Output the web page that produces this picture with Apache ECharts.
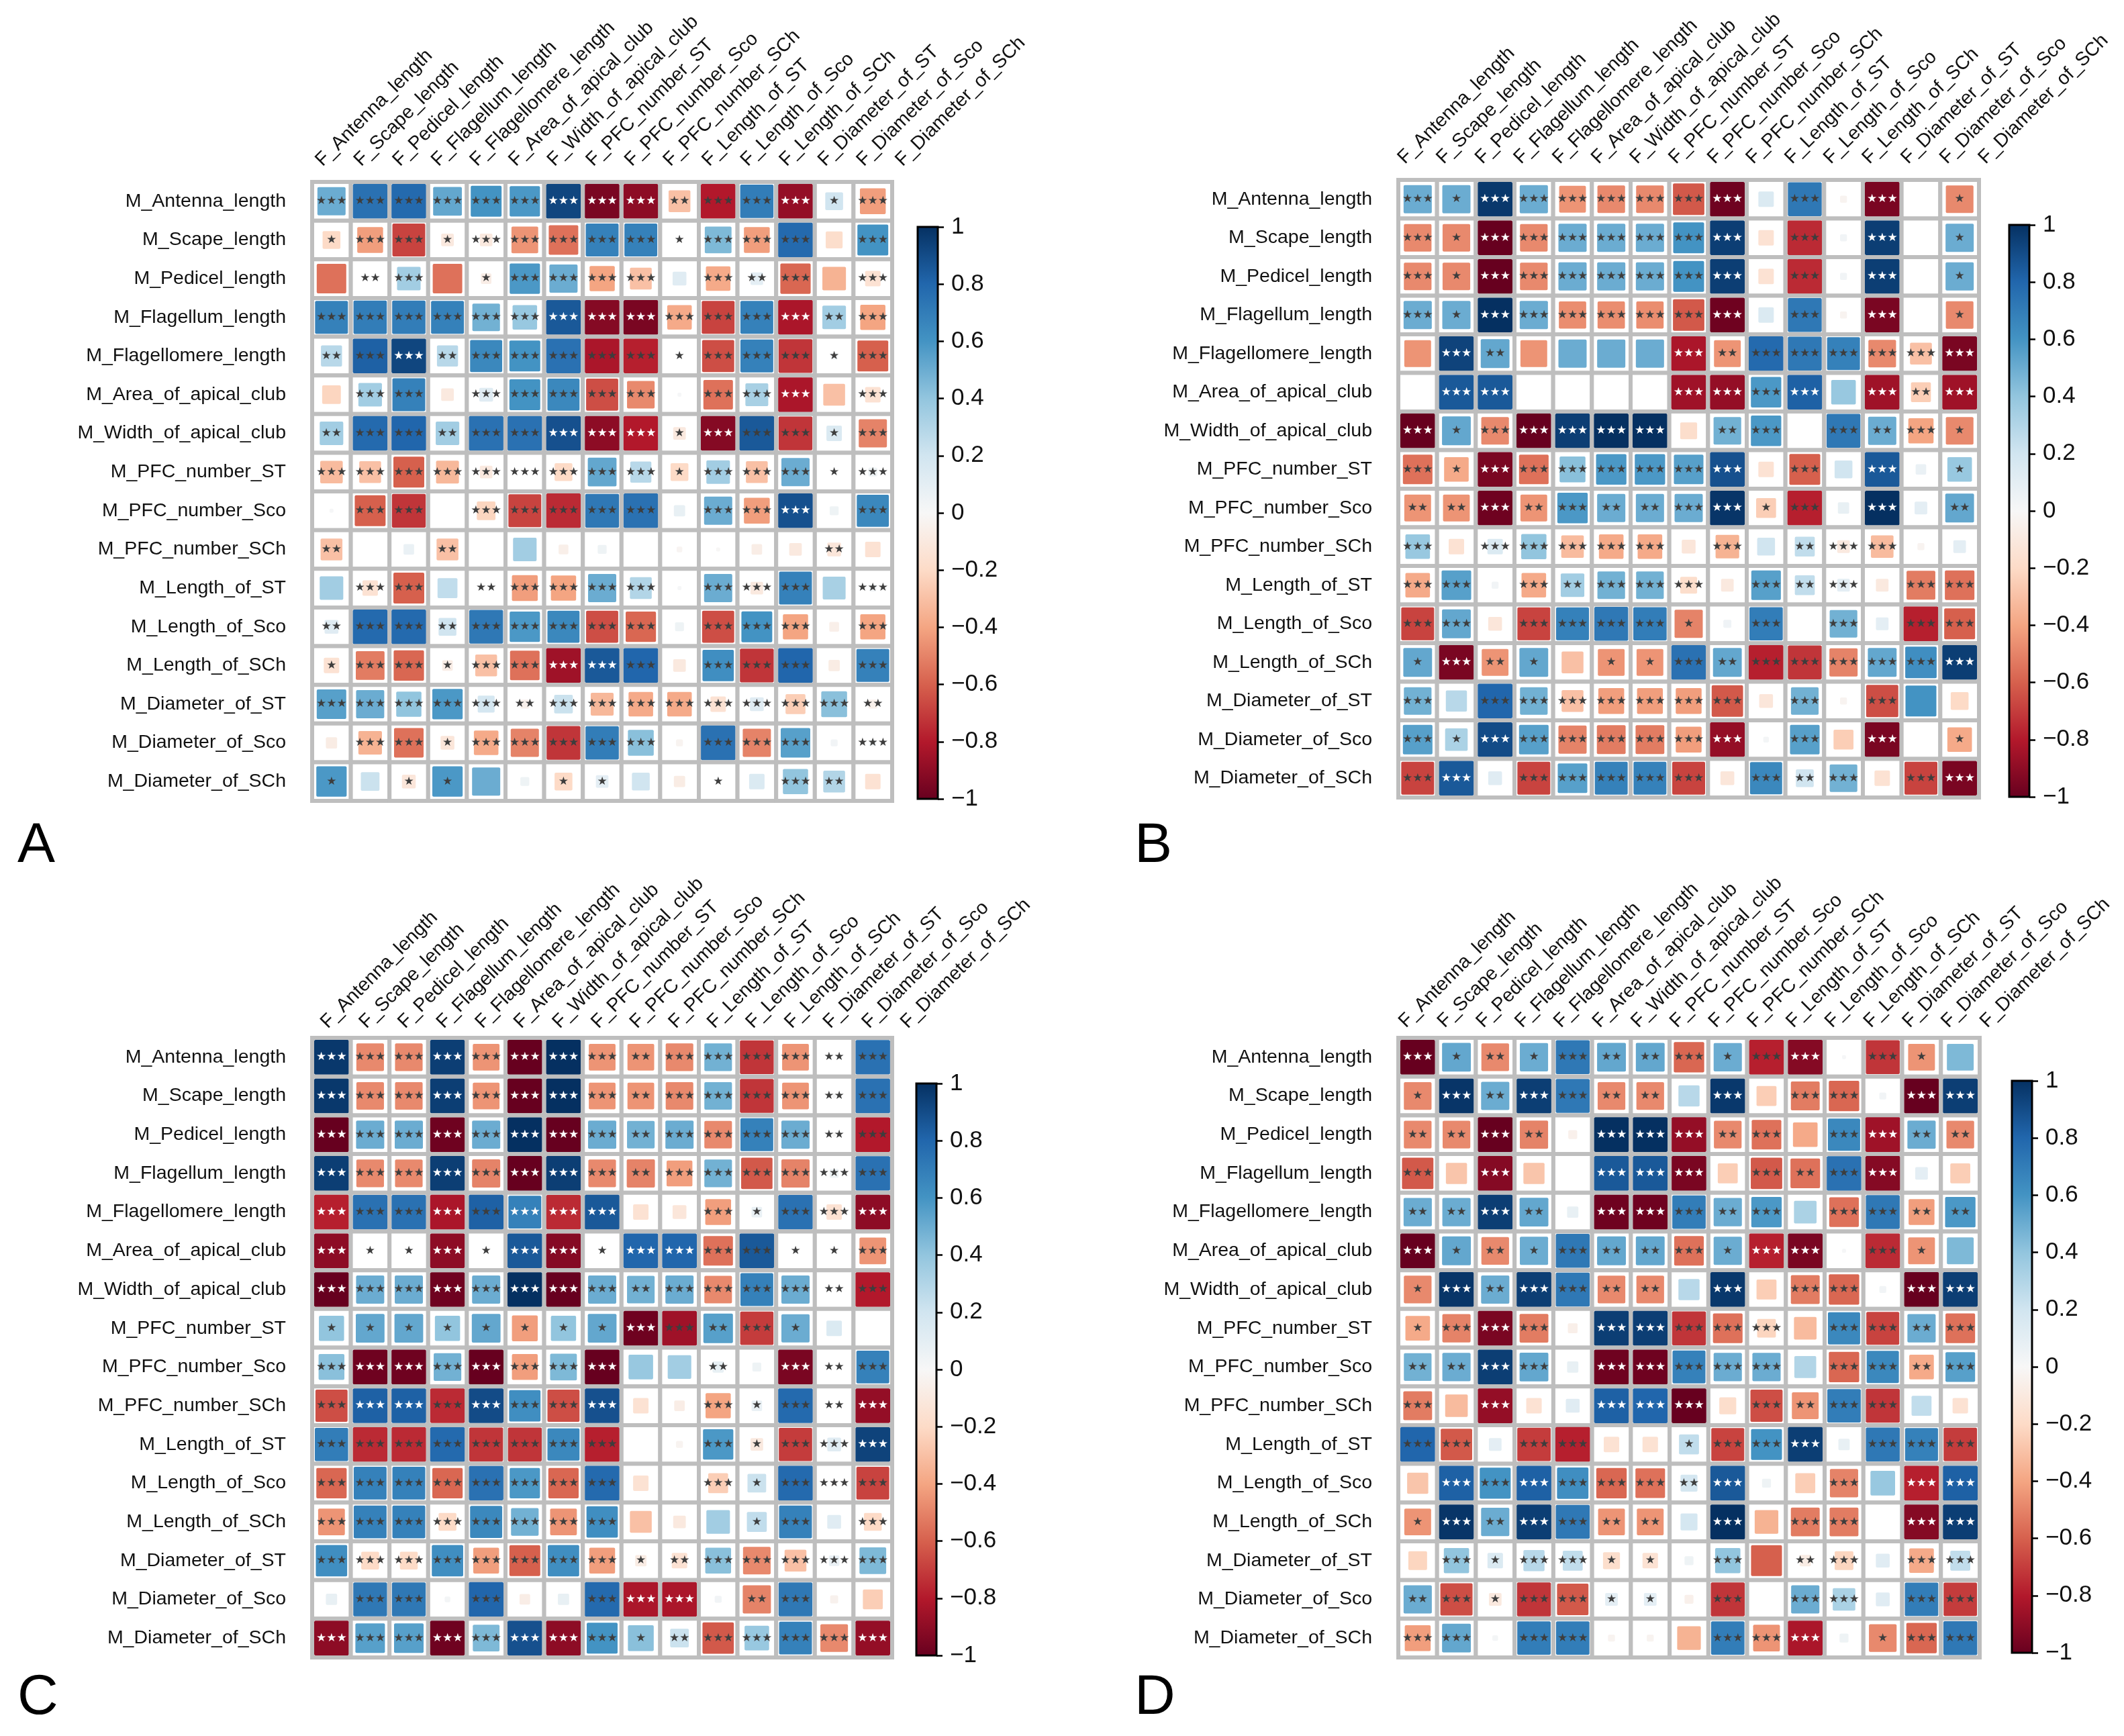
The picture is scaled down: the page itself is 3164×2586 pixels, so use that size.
<!DOCTYPE html>
<html><head><meta charset="utf-8">
<style>html,body{margin:0;padding:0;background:#fff}#c{width:3164px;height:2586px}</style>
<script src="https://cdn.jsdelivr.net/npm/echarts@6/dist/echarts.min.js"></script></head>
<body><div id="c"></div>
<script>
const rowLabels=["M_Antenna_length","M_Scape_length","M_Pedicel_length","M_Flagellum_length","M_Flagellomere_length","M_Area_of_apical_club","M_Width_of_apical_club","M_PFC_number_ST","M_PFC_number_Sco","M_PFC_number_SCh","M_Length_of_ST","M_Length_of_Sco","M_Length_of_SCh","M_Diameter_of_ST","M_Diameter_of_Sco","M_Diameter_of_SCh"];
const colLabels=["F_Antenna_length","F_Scape_length","F_Pedicel_length","F_Flagellum_length","F_Flagellomere_length","F_Area_of_apical_club","F_Width_of_apical_club","F_PFC_number_ST","F_PFC_number_Sco","F_PFC_number_SCh","F_Length_of_ST","F_Length_of_Sco","F_Length_of_SCh","F_Diameter_of_ST","F_Diameter_of_Sco","F_Diameter_of_SCh"];
const rdbu=["#67001F","#B2182B","#D6604D","#F4A582","#FDDBC7","#F7F7F7","#D1E5F0","#92C5DE","#4393C3","#2166AC","#053061"];
const panelLetters=["A","B","C","D"];

const valuesA=[
[.5,.75,.78,.52,.6,.58,.92,-.95,-.9,-.3,-.8,.7,-.88,.2,-.42],
[-.2,-.42,-.68,-.1,-.1,-.45,-.55,.68,.68,0,.45,-.42,.78,-.18,.6],
[-.55,0,.35,-.55,-.07,.58,.5,-.4,-.3,.12,-.38,.1,-.58,-.35,-.15],
[.68,.7,.7,.68,.48,.38,.85,-.92,-.95,-.38,-.68,.68,-.82,.35,-.4],
[.28,.82,.92,.28,.65,.6,.75,-.82,-.78,0,-.65,.68,-.72,.03,-.6],
[-.22,.35,.68,-.1,.12,.6,.65,-.65,-.48,.01,-.55,.33,-.82,-.3,-.15],
[.35,.78,.8,.35,.75,.75,.88,-.9,-.8,-.1,-.92,.85,-.72,.15,-.5],
[-.32,-.3,-.6,-.33,-.1,0,-.2,.52,.28,-.2,.35,-.3,.5,0,.05],
[.01,-.6,-.72,0,-.22,-.68,-.75,.72,.75,.08,.5,-.42,.88,.05,.65],
[-.3,0,.07,-.3,0,.35,-.06,.05,0,-.02,-.01,-.07,-.1,-.12,-.15],
[.35,-.15,-.6,.25,0,-.42,-.4,.5,.3,.01,.5,-.1,.68,.33,.03],
[.12,.78,.78,.2,.72,.58,.65,-.65,-.58,.05,-.65,.6,-.4,-.06,-.4],
[-.15,-.52,-.58,-.07,-.3,-.55,-.85,.85,.8,-.1,.62,-.72,.8,-.08,.68],
[.55,.5,.4,.58,.18,-.05,.22,-.33,-.38,-.38,-.15,.12,-.25,.42,-.05],
[-.08,-.35,-.55,-.12,-.38,-.5,-.72,.7,.42,-.03,.75,-.5,.55,.03,.03],
[.58,.22,-.12,.58,.5,.05,-.2,.1,.2,-.08,0,.15,.4,.3,-.15]];
const starsA=["333333WWW233W13","133133333133303","023013333032303","333333WWW333W23","23W233333133313","033033333033W03","233233WWW1W3313","333333333133313","033033333033W03","200200000000020","033023333033303","233233333033303","133133WW3033303","333332333333332","033133333033303","101100110010320"];

const valuesB=[
[.5,.5,.97,.5,-.45,-.48,-.48,-.62,-.98,.15,.72,-.03,-.95,0,-.48],
[-.48,-.48,-1,-.48,.5,.5,.5,.6,.95,-.15,-.75,.03,.95,0,.5],
[-.48,-.48,-1,-.48,.5,.5,.5,.6,.95,-.15,-.75,.03,.95,0,.5],
[.5,.5,1,.5,-.47,-.47,-.47,-.62,-.98,.15,.72,-.03,-.95,0,-.48],
[-.45,.93,.52,-.45,.5,.5,.5,-.82,-.45,.78,.72,.68,-.48,-.3,-.95],
[0,.85,.85,0,0,0,0,-.85,-.88,.58,.82,.38,-.85,-.25,-.85],
[-1,.52,-.48,-1,.95,1,1,-.18,.48,.58,0,.72,.5,-.4,-.48],
[-.55,-.38,-.95,-.55,.42,.58,.58,.55,.88,-.15,-.6,.2,.85,.07,.38],
[-.45,-.45,-.98,-.45,.58,.5,.5,.5,.98,-.25,-.78,.08,1,.1,.52],
[.38,-.15,.15,.4,-.32,-.38,-.38,-.12,-.35,.2,.25,-.1,-.32,-.03,.1],
[-.38,.55,.03,-.38,.35,.48,.48,-.18,-.1,.55,.25,.1,-.1,-.52,-.55],
[-.68,.52,-.12,-.68,.68,.72,.7,-.5,.04,.7,0,.48,.1,-.78,-.6],
[.52,-.95,-.45,.52,-.3,-.45,-.45,.75,.52,-.78,-.72,-.5,.52,.62,.95],
[.48,.28,.8,.48,-.3,-.42,-.42,-.42,-.62,-.12,.48,-.03,-.65,.6,-.2],
[.55,.32,.9,.55,-.5,-.52,-.52,-.42,-.88,.02,.55,-.25,-.95,0,-.38],
[-.68,.85,.12,-.68,.55,.68,.68,-.68,-.12,.65,.2,.48,-.15,-.68,-.95]];
const starsB=["31W33333W030W01","31W33333W030W01","31W33333W030W01","31W33333W030W01","0W20000W233333W","0WW0000WW3W0W2W","W13WWWW02303231","31W33333W030W01","22W23223W130W02","303333303023300","330323330323033","330333310303033","1W210113233333W","303333333030300","31W33333W030W01","3W033333032303W"];

const valuesC=[
[.97,-.48,-.48,.95,-.45,-1,1,-.45,-.45,-.48,.48,-.72,-.45,0,.75],
[.97,-.48,-.48,.95,-.45,-1,1,-.45,-.45,-.48,.48,-.72,-.45,.01,.75],
[-1,.5,.5,-.98,.5,1,-1,.5,.48,.5,-.48,.68,.5,-.01,-.8],
[.95,-.48,-.48,.95,-.5,-1,.95,-.48,-.5,-.42,.48,-.62,-.5,.05,.75],
[-.78,.75,.75,-.82,.82,.68,-.75,.85,-.15,-.12,-.42,.07,.75,-.15,-.9],
[-.9,0,0,-.9,0,.85,-.92,0,.8,.8,-.55,.85,0,0,-.45],
[-1,.5,.5,-.98,.5,1,-1,.5,.48,.5,-.48,.68,.5,0,-.8],
[.4,.52,.52,.4,.52,-.42,.4,.52,-.98,-.85,.55,-.7,.5,.15,0],
[.42,-.98,-.98,.48,-1,-.42,.45,-1,.38,.35,.08,.05,-.95,0,.68],
[-.65,.82,.82,-.75,.9,.62,-.65,.88,-.15,-.07,-.4,.07,.78,0,-.88],
[.7,-.75,-.75,.78,-.72,-.72,.65,-.78,0,-.03,.58,-.1,-.7,.12,.93],
[-.58,.68,.68,-.58,.75,.58,-.58,.78,-.15,0,-.25,.22,.78,-.02,-.68],
[-.45,.68,.68,-.2,.65,.48,-.45,.62,-.3,-.1,.35,.25,.68,.12,-.2],
[.62,-.2,-.2,.62,-.42,-.6,.62,-.42,-.08,-.15,.42,-.48,-.3,.07,.45],
[.08,.72,.72,.02,.8,-.07,.08,.78,-.82,-.82,.03,-.5,.72,-.04,-.25],
[-.9,.55,.55,-.98,.45,.88,-.9,.6,.42,.22,-.62,.38,.68,-.48,-.88]];
const starsC=["W33W3WW32333323","W33W3WW32333323","W33W3WW32333323","W33W3WW32333333","W33W3WWW003133W","W11W1WW1WW33113","W33W3WW32333323","11111111W323100","3WW3W33W0020W23","3WW3W33W003132W","33333333003133W","333333330031333","333333330001303","333333331233333","03303003WW02300","W33W3WW3123333W"];

const valuesD=[
[-1,.52,-.48,.5,.72,.52,.52,-.58,.5,-.78,-.92,.01,-.72,-.45,.45],
[-.48,.98,.5,.95,.72,-.48,-.48,.28,.97,-.25,-.52,-.58,.03,-1,.95],
[-.48,-.48,-1,-.5,-.05,1,1,-.88,-.48,-.55,-.38,.65,-.85,.5,-.48],
[-.62,-.28,-.92,-.28,0,.85,.85,-.95,-.25,-.62,-.55,.75,-.92,.1,-.25],
[.5,.5,.95,.52,.08,-.98,-.98,.7,.5,.58,.32,-.55,.72,-.42,.58],
[-1,.52,-.48,.5,.72,.52,.52,-.55,.5,-.78,-.95,.01,-.75,-.45,.45],
[-.48,.98,.5,.95,.72,-.48,-.48,.28,.97,-.25,-.52,-.58,.03,-1,.95],
[-.38,-.5,-.95,-.52,-.06,.95,.95,-.72,-.55,-.22,-.32,.65,-.68,.5,-.55],
[.48,.5,.95,.52,.08,-.98,-.98,.68,.5,.5,.3,-.58,.65,-.38,.55],
[-.52,-.32,-.88,-.15,.12,.82,.8,-1,-.18,-.65,-.45,.7,-.72,.25,-.15],
[.8,-.62,.1,-.7,-.78,-.15,-.15,.25,-.68,.6,.95,.08,.72,.68,-.7],
[-.28,.82,.6,.82,.62,-.58,-.55,.18,.85,.05,-.25,-.5,.38,-.78,.82],
[-.45,.98,.5,.95,.72,-.45,-.45,.18,1,-.35,-.52,-.52,0,-.92,.95],
[-.22,.4,.15,.28,.25,-.18,-.15,.05,.4,-.6,-.08,-.22,.12,-.38,.25],
[.5,-.65,-.1,-.72,-.62,.1,.1,-.05,-.72,0,.5,.32,.12,.7,-.7],
[-.42,.52,.02,.7,.7,-.03,-.03,-.35,.7,-.45,-.82,.05,-.48,-.58,.72]];
const starsD=["W121322313W0310","1W2W3220W0330WW","22W20WWW2303W22","30W00WWW0323W00","22W20WW32303322","W12132231WW0310","1W2W3220W0330WW","13W30WW33303323","22W30WW33303323","30W00WWW0323300","3303300133W0333","0W3W3332W0030WW","1W2W3220W0330WW","031331103023033","231331103033033","3303300033W0133"];

const panels=[
 {values:valuesA,stars:starsA,left:465,top:271,w:864,h:922,cb:[1367,338,30,852],letter:[26,1219],margin:18,pad:14},
 {values:valuesB,stars:starsB,left:2083,top:268,w:865,h:920,cb:[2993,335,30,852],letter:[1690,1219],margin:24,pad:6},
 {values:valuesC,stars:starsC,left:465,top:1546,w:864,h:923,cb:[1365,1614,30,852],letter:[26,2488],margin:1,pad:25},
 {values:valuesD,stars:starsD,left:2083,top:1546,w:866,h:923,cb:[2997,1610,30,852],letter:[1690,2488],margin:14,pad:8}
];
const font="'Liberation Sans',Arial,sans-serif";
const grid=[],xAxis=[],yAxis=[],series=[],graphic=[];
function renderCell(params,api,stars){
  const x=api.value(0),y=api.value(1),v=api.value(2);
  const st=stars[params.dataIndex];
  const p=api.coord([x,y]),s=api.size([1,1]);
  const cx=p[0]+s[0]/2,cy=p[1];
  const inner=s[0]-6;
  const side=inner*Math.min(1,1.15*Math.sqrt(Math.abs(v)));
  const ch=[
   {type:'rect',shape:{x:cx-s[0]/2,y:cy-s[1]/2,width:s[0],height:s[1]},style:{fill:'#fff',stroke:'#bebebe',lineWidth:6}},
   {type:'rect',shape:{x:cx-side/2,y:cy-side/2,width:side,height:side,r:2},style:{fill:api.visual('color')}}];
  if(st!=='0'){
    const n=st==='W'?3:+st;
    ch.push({type:'text',style:{x:cx,y:cy,text:'★'.repeat(n),align:'center',verticalAlign:'middle',fill:st==='W'?'#fff':'#3d3d3d',font:"17px 'DejaVu Sans'"}});
  }
  return {type:'group',children:ch};
}
function renderBar(params,api){
  const a=api.coord([0,1]),b=api.coord([0,-1]),s=api.size([1,0]);
  const stops=rdbu.map((c,i)=>({offset:1-i/10,color:c}));
  return {type:'rect',shape:{x:a[0]-s[0]/2,y:a[1],width:s[0],height:b[1]-a[1]},
    style:{fill:new echarts.graphic.LinearGradient(0,0,0,1,stops),stroke:'#000',lineWidth:3}};
}
panels.forEach((P,k)=>{
  grid.push({left:P.left,top:P.top,width:P.w,height:P.h,containLabel:false});
  xAxis.push({gridIndex:2*k,type:'category',position:'top',boundaryGap:false,data:colLabels,
    axisLine:{show:false},axisTick:{show:false},splitLine:{show:false},
    axisLabel:{interval:0,rotate:-45,margin:P.margin,padding:[0,0,0,P.pad],fontSize:28.5,color:'#111',fontFamily:font,hideOverlap:false}});
  yAxis.push({gridIndex:2*k,type:'category',inverse:true,data:rowLabels,
    axisLine:{show:false},axisTick:{show:false},splitLine:{show:false},
    axisLabel:{interval:0,margin:39,padding:[0,0,3,0],fontSize:28.5,color:'#111',fontFamily:font}});
  const data=[],st=[];
  P.values.forEach((r,j)=>r.forEach((v,i)=>{data.push([i,j,v]);st.push(P.stars[j][i]);}));
  series.push({type:'custom',xAxisIndex:2*k,yAxisIndex:2*k,coordinateSystem:'cartesian2d',clip:false,
    encode:{x:0,y:1},data,silent:true,renderItem:(p,api)=>renderCell(p,api,st)});
  const c=P.cb;
  grid.push({left:c[0],top:c[1],width:c[2],height:c[3],containLabel:false});
  xAxis.push({gridIndex:2*k+1,type:'category',data:['c'],show:false});
  yAxis.push({gridIndex:2*k+1,type:'value',position:'right',min:-1,max:1,interval:.2,
    axisLine:{show:false},splitLine:{show:false},
    axisTick:{show:true,length:9,lineStyle:{color:'#000',width:2.5},inside:false},
    axisLabel:{margin:20,fontSize:35,color:'#111',fontFamily:font,showMinLabel:true,showMaxLabel:true,
      formatter:v=>String(+v.toFixed(1)).replace('-','\u2212')}});
  series.push({type:'custom',xAxisIndex:2*k+1,yAxisIndex:2*k+1,coordinateSystem:'cartesian2d',clip:false,
    encode:{x:0,y:1},data:[[0,1]],silent:true,renderItem:renderBar});
  graphic.push({type:'text',left:P.letter[0],top:P.letter[1],style:{text:panelLetters[k],fontSize:84,fontFamily:font,fill:'#000'}});
});
const chart=echarts.init(document.getElementById('c'),null,{renderer:'canvas',width:3164,height:2586});
chart.setOption({animation:false,backgroundColor:'#fff',grid,xAxis,yAxis,series,graphic,
  visualMap:[{type:'continuous',show:false,min:-1,max:1,dimension:2,seriesIndex:[0,2,4,6],inRange:{color:rdbu}}]});
</script></body></html>
